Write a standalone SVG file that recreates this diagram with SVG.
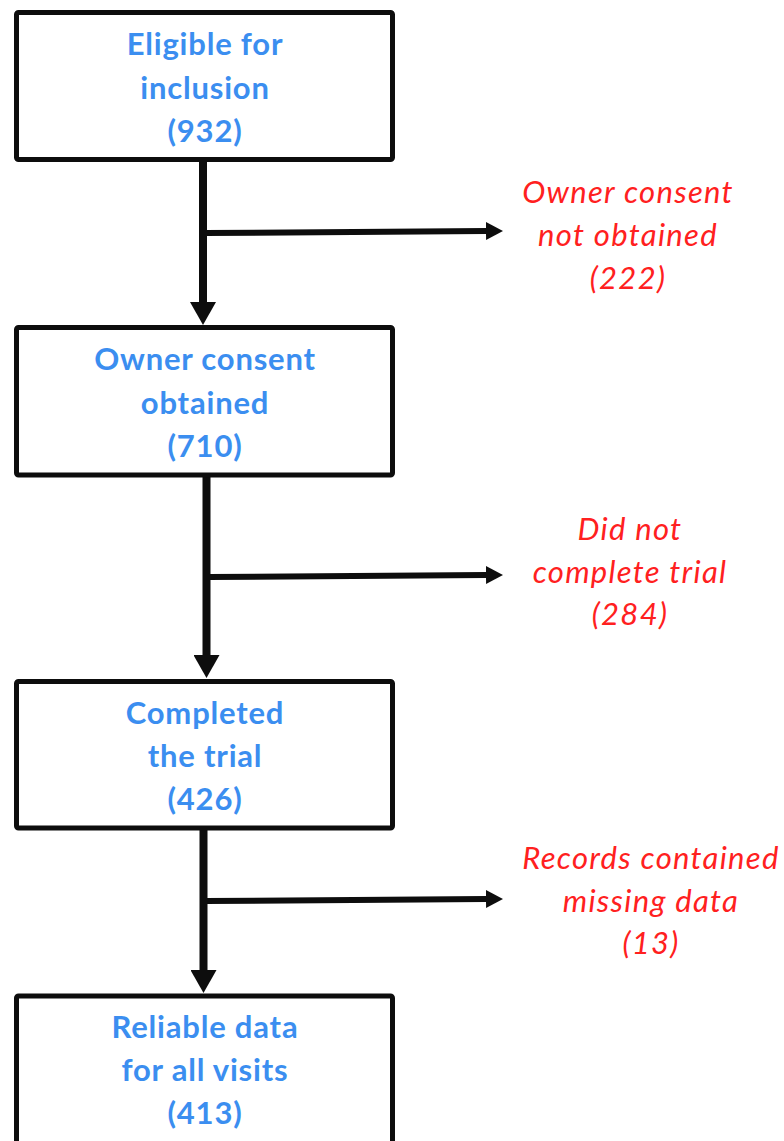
<svg xmlns="http://www.w3.org/2000/svg" width="784" height="1141" viewBox="0 0 784 1141">
<style>
.box{fill:#fff;stroke:#0d0d0d;stroke-width:5}
.bt{font-family:Lato,"Liberation Sans",sans-serif;font-weight:bold;font-size:31px;letter-spacing:0.8px;fill:#3b8ef0;text-anchor:middle}
.rt{font-family:Lato,"Liberation Sans",sans-serif;font-style:italic;font-size:31px;letter-spacing:1.3px;fill:#ff2020;text-anchor:middle}
.main{stroke:#0d0d0d;stroke-width:8;fill:none}
.side{stroke:#0d0d0d;stroke-width:6;fill:none}
</style>
<defs>
<marker id="big" markerUnits="userSpaceOnUse" markerWidth="24" markerHeight="26" refX="0" refY="13" orient="auto" viewBox="0 0 24 26"><path d="M0,0 L23,13 L0,26 Z" fill="#0d0d0d"/></marker>
<marker id="small" markerUnits="userSpaceOnUse" markerWidth="18" markerHeight="18" refX="0" refY="9" orient="auto" viewBox="0 0 18 18"><path d="M0,0 L17,9 L0,18 Z" fill="#0d0d0d"/></marker>
</defs>
<g id="connectors">
<line class="main" x1="203" y1="160" x2="203" y2="302" marker-end="url(#big)"/>
<line class="side" x1="206" y1="233" x2="486" y2="231" marker-end="url(#small)"/>
<line class="main" x1="206.5" y1="475" x2="206.5" y2="655" marker-end="url(#big)"/>
<line class="side" x1="209" y1="577" x2="486" y2="575" marker-end="url(#small)"/>
<line class="main" x1="203.5" y1="828" x2="203.5" y2="970" marker-end="url(#big)"/>
<line class="side" x1="206" y1="901" x2="486" y2="899" marker-end="url(#small)"/>
</g>
<g id="n1"><rect class="box" x="16.5" y="12.5" width="376" height="147" rx="2"/>
<text class="bt" x="205" y="55">Eligible for</text><text class="bt" x="205" y="99">inclusion</text><text class="bt" x="205" y="142">(932)</text></g>
<g id="n2"><rect class="box" x="16.5" y="327.5" width="376" height="147.5" rx="2"/>
<text class="bt" x="205" y="370">Owner consent</text><text class="bt" x="205" y="414">obtained</text><text class="bt" x="205" y="457">(710)</text></g>
<g id="n3"><rect class="box" x="16.5" y="681.5" width="376" height="146.5" rx="2"/>
<text class="bt" x="205" y="724">Completed</text><text class="bt" x="205" y="767">the trial</text><text class="bt" x="205" y="810">(426)</text></g>
<g id="n4"><rect class="box" x="16.5" y="996" width="376" height="147.5" rx="2"/>
<text class="bt" x="205" y="1038">Reliable data</text><text class="bt" x="205" y="1081">for all visits</text><text class="bt" x="205" y="1124">(413)</text></g>
<g id="e1"><text class="rt" x="628" y="203">Owner consent</text><text class="rt" x="628" y="246">not obtained</text><text class="rt" x="628" y="289">(222)</text></g>
<g id="e2"><text class="rt" x="630" y="540">Did not</text><text class="rt" x="630" y="583">complete trial</text><text class="rt" x="630" y="625">(284)</text></g>
<g id="e3"><text class="rt" x="651" y="869">Records contained</text><text class="rt" x="651" y="912">missing data</text><text class="rt" x="651" y="954">(13)</text></g>
</svg>
